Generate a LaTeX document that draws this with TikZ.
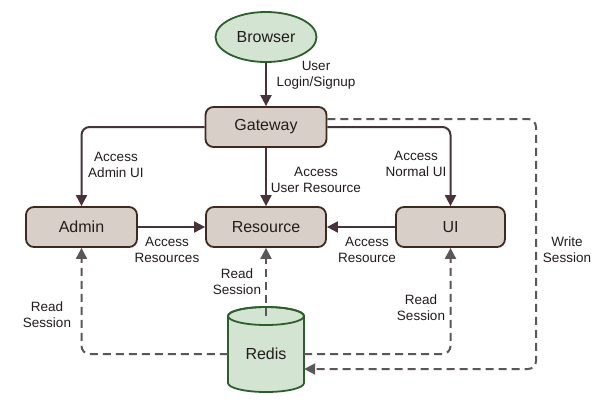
\documentclass[tikz,border=0pt]{standalone}
\usepackage{fontspec}
\setmainfont{Liberation Sans}
\usetikzlibrary{arrows.meta,shapes.geometric}
\definecolor{boxfill}{RGB}{216,208,200}
\definecolor{boxdraw}{RGB}{62,42,30}
\definecolor{grnfill}{RGB}{212,228,210}
\definecolor{grndraw}{RGB}{45,95,45}
\definecolor{solidc}{RGB}{72,50,60}
\definecolor{dashc}{RGB}{92,86,90}
\definecolor{txtc}{RGB}{35,28,28}
\tikzset{
  svcbox/.style={draw=boxdraw, fill=boxfill, line width=1.8pt, rounded corners=8pt,
    minimum width=110pt, minimum height=40pt, inner sep=0pt,
    font=\fontsize{16}{19}\selectfont, text=txtc},
  solidarr/.style={draw=solidc, line width=2pt, rounded corners=8pt,
    -{Triangle[length=11pt,width=11pt]}},
  dasharr/.style={draw=dashc, line width=2pt, rounded corners=8pt,
    dash pattern=on 8pt off 5pt, -{Triangle[length=11pt,width=11pt]}},
  lbl/.style={align=center, inner sep=0pt, text=txtc,
    font=\fontsize{13.5}{16}\selectfont},
}
\begin{document}
\begin{tikzpicture}[x=1pt,y=-1pt]
\useasboundingbox[fill=white] (0,0) rectangle (610,405);

% nodes
\node[draw=grndraw, fill=grnfill, line width=1.8pt, ellipse, minimum width=101pt,
  minimum height=50pt, inner sep=0pt, font=\fontsize{16}{19}\selectfont, text=txtc]
  (browser) at (266,37) {Browser};
\node[svcbox, minimum width=121pt] (gateway) at (266,127) {Gateway};
\node[svcbox, minimum width=111pt] (admin) at (81.5,227) {Admin};
\node[svcbox, minimum width=120pt] (resource) at (266,227) {Resource};
\node[svcbox, minimum width=109pt] (ui) at (450.5,227) {UI};

% Redis cylinder
\draw[draw=grndraw, fill=grnfill, line width=1.8pt]
  (228,316) -- (228,383) arc[start angle=180, end angle=360, x radius=38pt, y radius=9pt]
  -- (304,316) arc[start angle=0, end angle=180, x radius=38pt, y radius=9pt] -- cycle;
\draw[draw=grndraw, line width=1.8pt] (266,316) ellipse[x radius=38pt, y radius=9pt];
\node[minimum width=76pt, minimum height=76pt, inner sep=0pt,
  font=\fontsize{16}{19}\selectfont, text=txtc] (redis) at (266,354) {Redis};

% solid connectors
\draw[solidarr] (browser) -- (gateway);
\draw[solidarr] (gateway.west) -| (admin.north);
\draw[solidarr] (gateway) -- (resource);
\draw[solidarr] (gateway.east) -| (ui.north);
\draw[solidarr] (admin) -- (resource);
\draw[solidarr] (ui) -- (resource);

% dashed connectors
\draw[dasharr] (redis.north) -- (resource.south);
\draw[dasharr] (redis.west) -| (admin.south);
\draw[dasharr] (redis.east) -| (ui.south);
\coordinate (wsc) at (536,369);
\draw[dasharr] ([yshift=8pt]gateway.east) -| (wsc) -- ([yshift=-15pt]redis.east);

% labels
\node[lbl] (l1) at (316,75) {User\\Login/Signup};
\node[lbl] (l2) at (116,165) {Access\\Admin UI};
\node[lbl] (l3) at (316,180) {Access\\User Resource};
\node[lbl] (l4) at (416,164) {Access\\Normal UI};
\node[lbl] (l5) at (167,250) {Access\\Resources};
\node[lbl] (l6) at (367,250) {Access\\Resource};
\node[lbl] (l7) at (237,282) {Read\\Session};
\node[lbl] (l8) at (47,315) {Read\\Session};
\node[lbl] (l9) at (421,308) {Read\\Session};
\node[lbl] (l10) at (567,250) {Write\\Session};
\end{tikzpicture}
\end{document}
